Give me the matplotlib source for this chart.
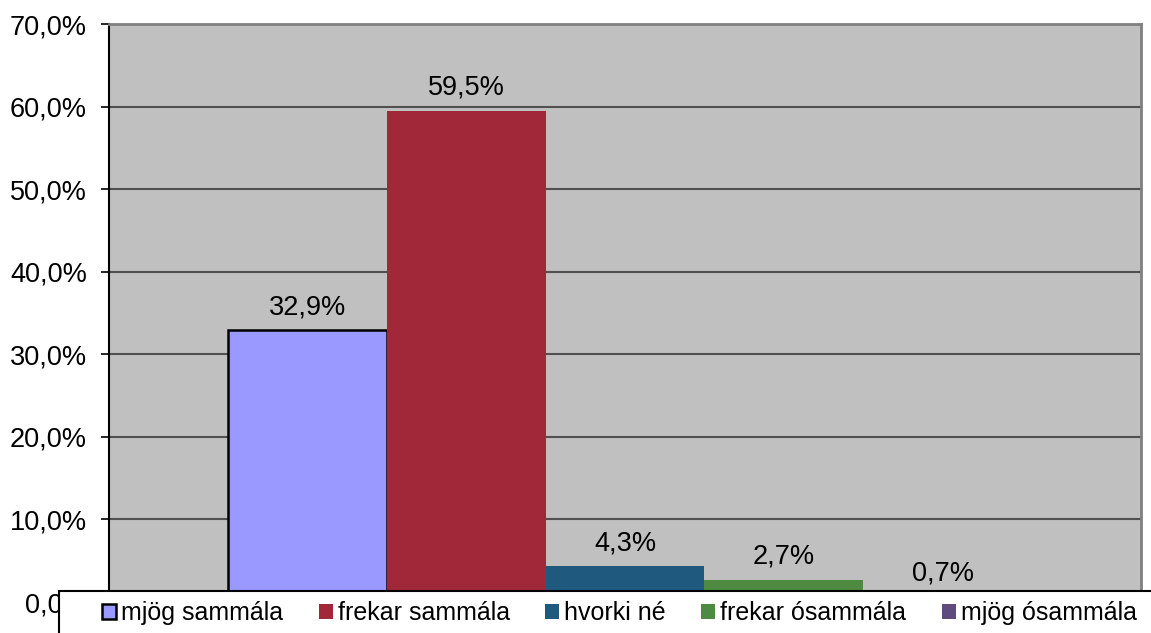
import numpy as np
import matplotlib
matplotlib.use("Agg")
import matplotlib.pyplot as plt
from matplotlib.patches import Patch, Rectangle

plt.rcParams['font.family'] = ['Liberation Sans', 'DejaVu Sans']

# ====================== Data ======================
categories = ['mjög sammála', 'frekar sammála', 'hvorki né', 'frekar ósammála', 'mjög ósammála']
values = [32.9, 59.5, 4.3, 2.7, 0.7]
colors = ['#9999FF', '#A12839', '#1F5A7E', '#4F8A43', '#5F4B7E']
yticks = [0, 10, 20, 30, 40, 50, 60, 70]

# ====================== Figure ======================
W, H = 1151, 633
fig = plt.figure(figsize=(W / 100, H / 100), dpi=100)
ax = fig.add_axes([109 / W, 1 - 602 / H, (1141 - 109) / W, (602 - 24) / H])
ax.set_facecolor('#C0C0C0')

bar_w = 0.154
n = len(values)
for i, (cat, v, c) in enumerate(zip(categories, values, colors)):
    x = (i - (n - 1) / 2) * bar_w
    edge = 'black' if i == 0 else c
    lw = 1.8 if i == 0 else 0
    ax.bar(x, v, width=bar_w, color=c, edgecolor=edge, linewidth=lw, zorder=3)
    ax.annotate(f'{v:.1f}%'.replace('.', ','), (x, v), xytext=(0, 11.5),
                textcoords='offset points', ha='center', va='baseline',
                fontsize=19.5, zorder=4)

ax.set_xlim(-0.5, 0.5)
ax.set_ylim(0, 70)
ax.set_yticks(yticks)
ax.set_yticklabels([f'{t:.1f}%'.replace('.', ',') for t in yticks], fontsize=19.5)
ax.set_xticks([])
ax.tick_params(axis='y', length=6, width=1.2, pad=10, color='black')
ax.grid(axis='y', color='#505050', linewidth=1.5, zorder=1)
ax.set_axisbelow(True)

for side in ['top', 'right']:
    ax.spines[side].set_color('#808080')
    ax.spines[side].set_linewidth(2)
ax.spines['left'].set_color('black')
ax.spines['left'].set_linewidth(1.5)
ax.spines['bottom'].set_color('black')

# ====================== Legend ======================
frame = Rectangle((59 / W, -0.1), 1.2, (1 - 591 / H) + 0.1, transform=fig.transFigure,
                  facecolor='white', edgecolor='black', linewidth=1.5, zorder=5)
fig.patches.append(frame)

handles = [Patch(facecolor=c, edgecolor='black' if i == 0 else c, linewidth=1.8 if i == 0 else 0)
           for i, c in enumerate(colors)]
leg = fig.legend(handles, categories, ncol=5, loc='center left',
                 bbox_to_anchor=(102 / W, 1 - 613 / H), frameon=False, fontsize=18,
                 handlelength=0.56, handleheight=0.56, handletextpad=0.2,
                 columnspacing=1.42, borderpad=0, borderaxespad=0)
leg.set_zorder(6)

fig.savefig('out.png', dpi=100)
